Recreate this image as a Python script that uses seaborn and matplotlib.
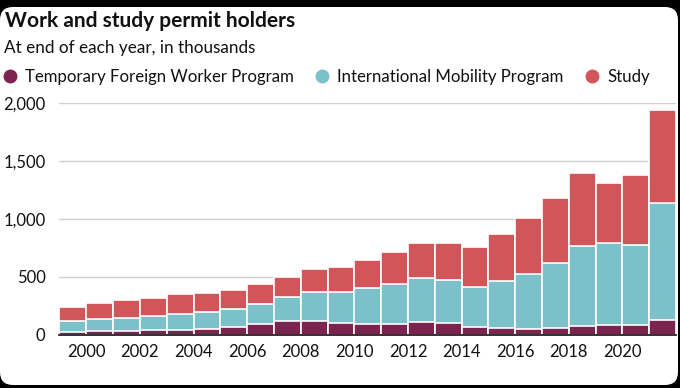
import matplotlib.pyplot as plt
import seaborn as sns
import numpy as np
from matplotlib.patches import FancyBboxPatch
from matplotlib.lines import Line2D
from matplotlib.ticker import StrMethodFormatter

# Work and study permit holders, thousands, end of year
years = list(range(2000, 2023))
tfwp = [25, 28, 33, 38, 40, 50, 62, 88, 117, 117, 97, 88, 93, 111, 99, 65, 56, 45, 56, 76, 80, 85, 123]
imp = [92, 103, 112, 122, 137, 145, 156, 176, 205, 248, 268, 313, 347, 380, 370, 346, 404, 481, 565, 690, 711, 692, 1017]
study = [118, 139, 153, 158, 171, 167, 164, 170, 178, 199, 219, 242, 271, 298, 322, 343, 407, 484, 562, 631, 522, 605, 802]
series_names = ['Temporary Foreign Worker Program', 'International Mobility Program', 'Study']
yticks = [0, 500, 1000, 1500, 2000]

c_tfwp = '#7b2450'
c_imp = '#7cc1ca'
c_study = '#d2555a'
text_col = '#111111'

sns.set_style('white')
plt.rcParams['font.family'] = ['Lato', 'DejaVu Sans']

tfwp_top = np.array(tfwp)
imp_top = tfwp_top + np.array(imp)
total = imp_top + np.array(study)

W, H = 680, 388
fig = plt.figure(figsize=(W / 100, H / 100), dpi=100, facecolor='black')
fig.patches.append(FancyBboxPatch((0.0, 0.03), 6.78, 3.78,
                                  boxstyle='round,pad=0,rounding_size=0.13',
                                  transform=fig.dpi_scale_trans,
                                  facecolor='white', edgecolor='none', zorder=-1))

ax = fig.add_axes([59.5 / W, (H - 334.5) / H, 616.5 / W, 231.2 / H])
ax.set_facecolor('none')

# stacked bars: draw cumulative tops, largest first
for vals, col in [(total, c_study), (imp_top, c_imp), (tfwp_top, c_tfwp)]:
    sns.barplot(x=years, y=vals, color=col, saturation=1, width=1,
                edgecolor='white', linewidth=1.2, ax=ax)

ax.set_xlim(-0.5, len(years) - 0.5)
ax.set_ylim(0, 2000)
ax.set_yticks(yticks)
ax.yaxis.set_major_formatter(StrMethodFormatter('{x:,.0f}'))
ax.yaxis.grid(True, color='#cfcfcf', linewidth=1)
ax.set_axisbelow(True)
for s in ['top', 'right', 'left']:
    ax.spines[s].set_visible(False)
ax.spines['bottom'].set_color('#222222')
ax.spines['bottom'].set_linewidth(1.3)
ax.set_xlabel('')
ax.set_ylabel('')

major = [i - 0.5 for i in range(0, 21, 2)]
minor = [i + 0.5 for i in range(0, 21, 2)]
ax.set_xticks(major, labels=[''] * len(major))
ax.set_xticks(minor, labels=[str(y) for y in years[0:21:2]], minor=True)
ax.tick_params(axis='x', which='major', length=6, width=1.3, color='#222222')
ax.tick_params(axis='x', which='minor', length=0, pad=7, labelsize=12, labelcolor=text_col)
ax.tick_params(axis='y', length=0, pad=10, labelsize=12, labelcolor=text_col)

fig.text(5 / W, 1 - 21 / H, 'Work and study permit holders', fontsize=15,
         fontweight='bold', color=text_col, va='center', ha='left')
fig.text(4 / W, 1 - 48 / H, 'At end of each year, in thousands', fontsize=12.3,
         color=text_col, va='center', ha='left')

handles = [Line2D([], [], marker='o', linestyle='', markersize=9, color=c)
           for c in [c_tfwp, c_imp, c_study]]
fig.legend(handles, series_names, loc='center left', bbox_to_anchor=(3 / W, 1 - 77 / H),
           ncol=3, frameon=False, fontsize=12.1, handlelength=0.8, handletextpad=0.5,
           columnspacing=1.3, borderaxespad=0, borderpad=0, labelcolor=text_col)

fig.savefig('out.png', dpi=100, facecolor=fig.get_facecolor())
